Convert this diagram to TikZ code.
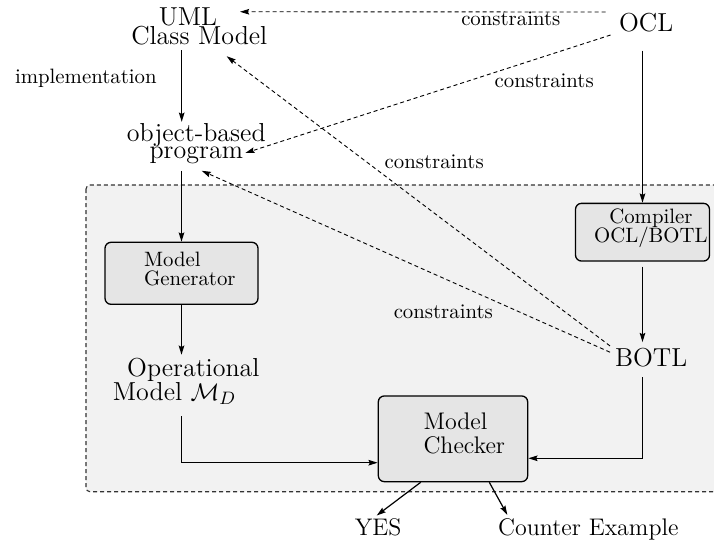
\documentclass[tikz,border=0pt]{standalone}
\usetikzlibrary{arrows.meta}
% font size with a fixed baseline skip, no extra interline glue
\newcommand\mysize[2]{\fontsize{#1}{#2}\selectfont\lineskiplimit=-\maxdimen}
\tikzset{
  lbl/.style={inner sep=0pt, outer sep=0pt},
  box/.style={draw, line width=0.65pt, fill=black!10, rounded corners=3pt, inner sep=0pt},
  region/.style={draw=black!80, line width=0.55pt, dash pattern=on 2pt off 1.5pt, fill=black!5, rounded corners=2pt},
  tip/.style={-{Stealth[length=4.6pt,width=2.8pt,inset=0.7pt]}},
  arr/.style={tip, line width=0.6pt},
  dsh/.style={tip, line width=0.45pt, dash pattern=on 2pt off 1.5pt},
}
\begin{document}
\begin{tikzpicture}[x=0.5pt, y=-0.5pt]
\useasboundingbox (0,0) rectangle (714,542);
\clip (0,0) rectangle (714,542);

% shaded area holding the checking tool chain
\draw[region] (86,185) rectangle (740,491.7);

% tool boxes
\node[box, minimum width=76.5pt, minimum height=31pt] (gen) at (181.5,273.3) {};
\node[box, minimum width=67pt, minimum height=28.85pt] (comp) at (642.5,232.2) {};
\node[box, minimum width=74.7pt, minimum height=42.85pt] (chk) at (453,438.8) {};
\node[lbl, font=\mysize{10.4}{9.5}, align=left] (gentxt) at (189.8,269.3) {Model\\Generator};
\node[lbl, font=\mysize{10.4}{9.7}, align=center] (comptxt) at (650.9,228.4) {Compiler\\OCL/BOTL};
\node[lbl, font=\mysize{12}{11.7}, align=left] (chktxt) at (464.3,433.3) {Model\\Checker};

% artefacts
\node[lbl, font=\mysize{13}{9.5}, align=center] (uml) at (199.3,26.6) {UML\hspace*{11.3pt}\\Class Model};
\node[lbl, font=\mysize{13}{8.3}, align=center] (prog) at (196.3,143.5) {object-based\\program};
\node[lbl, font=\mysize{13}{11.7}, align=left] (op) at (186.2,381.3) {\hspace*{7.15pt}Operational\\Model $\mathcal{M}_D$};
\node[lbl, font=\mysize{13}{15}, anchor=base] (ocl) at (646.2,31.7) {OCL};
\node[lbl, font=\mysize{13}{15}, anchor=base] (botl) at (651.2,366.7) {BOTL};
\node[lbl, font=\mysize{12}{14}, anchor=base] (yes) at (378.2,535) {YES};
\node[lbl, font=\mysize{12}{14}, anchor=base] (ce) at (588.3,535) {Counter Example};

% edge labels
\node[lbl, font=\mysize{10.4}{12}, anchor=base] (impl) at (85.8,83.3) {implementation};
\node[lbl, font=\mysize{10.4}{12}, anchor=base] (c1) at (510.8,25) {constraints};
\node[lbl, font=\mysize{10.4}{12}, anchor=base] (c2) at (544.2,87.3) {constraints};
\node[lbl, font=\mysize{10.4}{12}, anchor=base] (c3) at (434.2,168.3) {constraints};
\node[lbl, font=\mysize{10.4}{12}, anchor=base] (c4) at (443.3,318.3) {constraints};

% solid flow
\draw[arr] ([shift={(-17.6,5)}]uml.south) -- ([shift={(-14.6,-1.7)}]prog.north);
\draw[arr] ([shift={(-14.8,7.3)}]prog.south) -- (gen.north);
\draw[arr] (gen.south) -- ([shift={(-4.7,-3.7)}]op.north);
\draw[arr] ([shift={(-4.7,12)}]op.south) |- ([shift={(0,23.9)}]chk.west);
\draw[arr] ([shift={(-3.7,18.3)}]ocl.south) -- (comp.north);
\draw[arr] ([shift={(0,5)}]comp.south) -- ([shift={(-8.7,-6.3)}]botl.north);
\draw[arr] ([shift={(-8.7,10)}]botl.south) |- ([shift={(0,19.5)}]chk.east);
\draw[arr] ([shift={(-32.3,0)}]chk.south) -- ([shift={(-1.5,-2.6)}]yes.north);
\draw[arr] ([shift={(36.3,0)}]chk.south) -- ([shift={(-81,-3.3)}]ce.north);

% constraint links
\draw[dsh] ([shift={(-13.6,-10.8)}]ocl.west) -- ([shift={(40.7,3.8)}]uml.north);
\draw[dsh] ([shift={(-8.6,12.2)}]ocl.west) -- ([shift={(-20.3,9.5)}]prog.east);
\draw[dsh] ([shift={(-5.1,-11.9)}]botl.west) -- ([shift={(27.4,11)}]uml.south);
\draw[dsh] ([shift={(-5.1,-5.6)}]botl.west) -- ([shift={(5.4,7.3)}]prog.south);
\end{tikzpicture}
\end{document}
